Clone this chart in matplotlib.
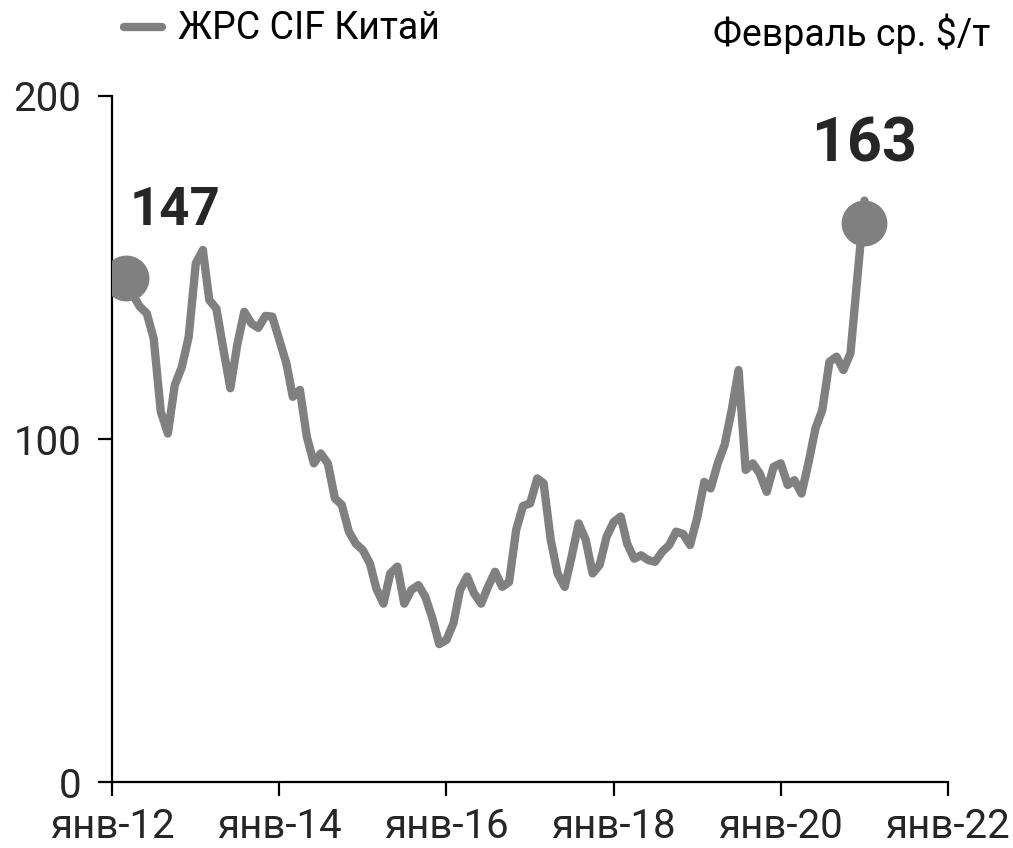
import matplotlib
matplotlib.use("Agg")
import matplotlib.pyplot as plt
from matplotlib.lines import Line2D
import pandas as pd

plt.rcParams['font.family'] = ['Roboto', 'DejaVu Sans']

# monthly iron ore CIF China, $/t
start_month = "2012-03-01"
prices = [147, 142, 138.6, 136.6, 129.3, 108, 101.6, 115.7, 121, 129.8,
          151.2, 155.1, 140.5, 138, 126.4, 114.8, 127.4, 137.1, 133.7, 132.4,
          135.9, 135.7, 128.9, 122, 112.3, 114.3, 100.7, 92.9, 95.8, 92.9,
          82.7, 80.8, 73, 69.5, 67.6, 63.7, 56.4, 52, 60.8, 62.8,
          52, 56, 57.4, 54, 47.7, 40.2, 41.4, 46.3, 56, 59.9,
          55, 52, 56.9, 61.3, 56.9, 58.3, 73.5, 80.5, 81.2, 88.5,
          87.1, 70.6, 60.8, 56.9, 65.6, 75.4, 70.6, 60.8, 63.3, 71.5,
          75.8, 77.4, 69.5, 65.1, 66.1, 64.7, 64.2, 67.1, 69.1, 73,
          72.3, 69.1, 77, 87.5, 85.6, 92.9, 98.3, 108.5, 120.1, 91,
          92.9, 90, 84.6, 91.9, 92.9, 86.6, 88, 84.1, 92.9, 103.1,
          108.5, 122.5, 124, 120.1, 125, 147, 169.5]
first_label = 147
last_label = 163   # February average
series_name = "ЖРС CIF Китай"
unit_note = "Февраль ср. $/т"
tick_years = [2012, 2014, 2016, 2018, 2020, 2022]

dates = pd.date_range(start_month, periods=len(prices), freq="MS")
gray = "#808080"
txt = "#262626"

fig = plt.figure(figsize=(10.13, 8.48), dpi=100)
ax = fig.add_axes([0.1106, 0.0778, 0.8252, 0.809])

ax.plot(dates, prices, color=gray, linewidth=6, solid_capstyle="round",
        solid_joinstyle="round", zorder=2)
ax.plot([dates[0]], [first_label], "o", color=gray, markersize=32, zorder=3)
ax.plot([dates[-1]], [last_label], "o", color=gray, markersize=32, zorder=3)

ax.annotate(str(first_label), (dates[0], first_label), xytext=(49, 67),
            textcoords="offset pixels", ha="center", va="center",
            fontsize=38, fontweight="bold", color=txt)
ax.annotate(str(last_label), (dates[-1], last_label), xytext=(0, 78),
            textcoords="offset pixels", ha="center", va="center",
            fontsize=44, fontweight="bold", color=txt)

ax.set_xlim(pd.Timestamp("2012-01-01"), pd.Timestamp("2022-01-01"))
ax.set_ylim(0, 200)
ax.set_yticks([0, 100, 200])
ax.set_xticks([pd.Timestamp(f"{y}-01-01") for y in tick_years])
ax.set_xticklabels([f"янв-{y % 100:02d}" for y in tick_years])

for s in ["top", "right"]:
    ax.spines[s].set_visible(False)
for s in ["left", "bottom"]:
    ax.spines[s].set_linewidth(1.6)
    ax.spines[s].set_color("black")
ax.tick_params(axis="both", direction="out", length=10, width=1.6,
               labelsize=29, labelcolor=txt)
ax.tick_params(axis="x", pad=8)
ax.tick_params(axis="y", pad=12)

# legend drawn at top left
fig.add_artist(Line2D([0.122, 0.160], [0.968, 0.968], color=gray,
                      linewidth=6, solid_capstyle="round",
                      transform=fig.transFigure))
fig.text(0.176, 0.966, series_name, fontsize=27, color="black",
         ha="left", va="center")
fig.text(0.978, 0.960, unit_note, fontsize=27, color="black",
         ha="right", va="center")

fig.savefig("out.png", dpi=100)
